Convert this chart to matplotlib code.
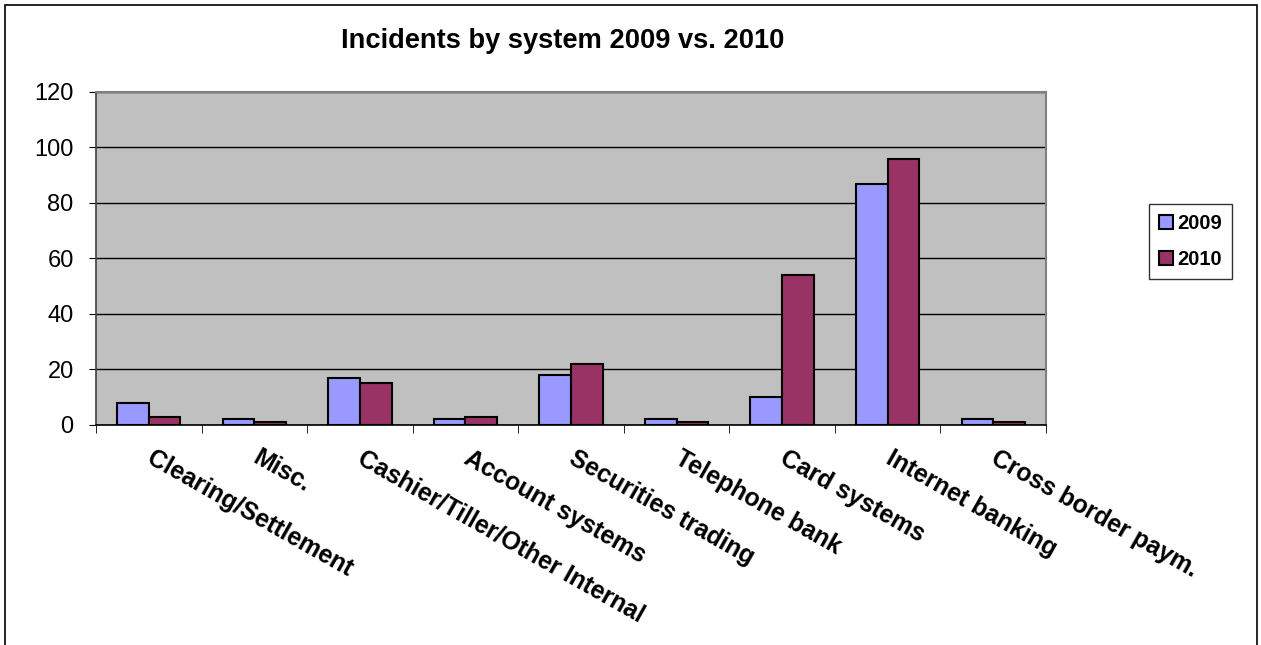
import matplotlib.pyplot as plt
import numpy as np
from matplotlib.patches import Rectangle
from matplotlib.transforms import ScaledTranslation

systems = ['Clearing/Settlement', 'Misc.', 'Cashier/Tiller/Other Internal',
           'Account systems', 'Securities trading', 'Telephone bank',
           'Card systems', 'Internet banking', 'Cross border paym.']
inc_2009 = [8, 2, 17, 2, 18, 2, 10, 87, 2]
inc_2010 = [3, 1, 15, 3, 22, 1, 54, 96, 1]

plt.rcParams['font.family'] = ['Liberation Sans', 'DejaVu Sans']

fig = plt.figure(figsize=(12.61, 6.45), dpi=100)
fig.patches.append(Rectangle((5 / 1261, -0.01), 1252 / 1261, 1.01 - 5 / 645,
                             transform=fig.transFigure, fill=False,
                             edgecolor='black', linewidth=1.2))
ax = fig.add_axes([0.0761, 0.3411, 0.7534, 0.5163])
ax.set_facecolor('#C0C0C0')

x = np.arange(len(systems))
w = 0.30
ax.bar(x - w / 2, inc_2009, w, color='#9999FF', edgecolor='black', linewidth=1.5,
       label='2009', zorder=3)
ax.bar(x + w / 2, inc_2010, w, color='#993366', edgecolor='black', linewidth=1.5,
       label='2010', zorder=3)

ax.set_xlim(-0.5, len(systems) - 0.5)
ax.set_ylim(0, 120)
ax.set_yticks(range(0, 121, 20))
ax.tick_params(axis='y', labelsize=17, length=5, color='black', pad=11)
ax.yaxis.grid(True, color='black', linewidth=1.0, zorder=0)
ax.set_axisbelow(True)

ax.set_xticks(x)
ax.set_xticks(np.arange(-0.5, len(systems), 1), minor=True)
ax.tick_params(axis='x', which='major', length=0, pad=15)
ax.tick_params(axis='x', which='minor', length=6, color='black')
ax.set_xticklabels(systems, rotation=-29.5, ha='left', va='top',
                   rotation_mode='anchor', fontsize=17.8, fontweight='bold')
offset = ScaledTranslation(0.06, 0, fig.dpi_scale_trans)
for lbl in ax.get_xticklabels():
    lbl.set_transform(lbl.get_transform() + offset)

for s in ['top', 'right']:
    ax.spines[s].set_color('#808080')
    ax.spines[s].set_linewidth(1.5)
ax.spines['left'].set_color('#404040')
ax.spines['bottom'].set_color('black')
ax.spines['left'].set_linewidth(1.2)
ax.spines['bottom'].set_linewidth(1.2)

fig.text(563 / 1261, 1 - 48 / 645, 'Incidents by system 2009 vs. 2010',
         fontsize=19.6, fontweight='bold', ha='center', va='baseline')

leg = ax.legend(loc='center left', bbox_to_anchor=(1.108, 0.55), fontsize=14.5,
                frameon=True, fancybox=False, edgecolor='black',
                handlelength=0.7, handleheight=0.7, handletextpad=0.2,
                labelspacing=0.85, borderpad=0.5, borderaxespad=0)
leg.get_frame().set_linewidth(1.0)
for t in leg.get_texts():
    t.set_fontweight('bold')

fig.savefig('out.png', dpi=100)
